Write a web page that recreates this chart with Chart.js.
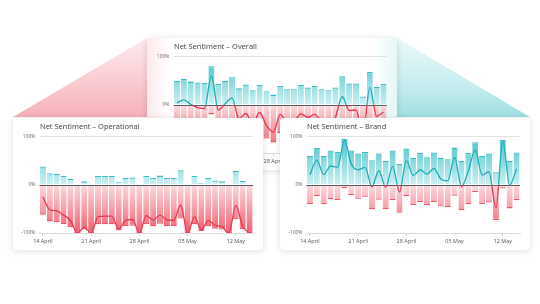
<!DOCTYPE html>
<html><head><meta charset="utf-8">
<script src="https://cdn.jsdelivr.net/npm/chart.js@4"></script>
<style>
html,body{margin:0;padding:0;background:#fff;width:540px;height:304px;overflow:hidden;font-family:'Open Sans',sans-serif;}
.bg{position:absolute;}
#pink{left:13px;top:38px;width:134px;height:79px;clip-path:polygon(100% 0,100% 100%,0 100%);background:linear-gradient(to top,#f6b0ba 0%,#f9c9cf 40%,#fdebee 100%);}
#teal{left:397px;top:38px;width:133px;height:79px;clip-path:polygon(0 0,100% 100%,0 100%);background:linear-gradient(to top,#a0dfe2 0%,#c6edef 40%,#ecf9fa 100%);}
.card{position:absolute;width:250px;height:132px;background:#fff;border-radius:4px;box-shadow:0 1px 7px rgba(0,0,0,0.14);}
.card canvas{position:absolute;left:0;top:0;}
.title{position:absolute;left:27px;top:4px;font-size:7.5px;line-height:9px;color:#3d3d3d;white-space:nowrap;}
#ovTint{position:absolute;left:0;top:0;width:250px;height:132px;border-radius:4px;pointer-events:none;
 background:linear-gradient(to right,rgba(246,176,186,0.28) 0%,rgba(255,255,255,0) 9%,rgba(255,255,255,0) 91%,rgba(160,223,226,0.28) 100%);}
</style></head>
<body>
<div class="bg" id="pink"></div>
<div class="bg" id="teal"></div>
<div class="card" style="left:147px;top:37.5px;"><canvas id="overall" width="250" height="132"></canvas><div id="ovTint"></div><div class="title">Net Sentiment – Overall</div></div>
<div class="card" style="left:13px;top:117.5px;"><canvas id="operational" width="250" height="132"></canvas><div class="title">Net Sentiment – Operational</div></div>
<div class="card" style="left:280px;top:117.5px;"><canvas id="brand" width="250" height="132"></canvas><div class="title">Net Sentiment – Brand</div></div>
<script>
const categories = ['14 April','15 April','16 April','17 April','18 April','19 April','20 April','21 April','22 April','23 April','24 April','25 April','26 April','27 April','28 April','29 April','30 April','01 May','02 May','03 May','04 May','05 May','06 May','07 May','08 May','09 May','10 May','11 May','12 May','13 May','14 May'];
const tickLabels = ['14 April','21 April','28 April','05 May','12 May'];

const overallPos = [50,54,48,46,45,80,43,50,57,34,42,30,41,28,21,39,32,32,41,36,39,32,30,36,59,44,44,17,68,37,43];
const overallNeg = [-48,-44,-50,-52,-53,-20,-55,-48,-42,-64,-56,-68,-57,-70,-78,-59,-66,-65,-57,-62,-59,-66,-68,-62,-40,-54,-55,-81,-31,-61,-55];
const overallNet = [4,10,1,-6,-8,60,-11,2,14,-29,-18,-38,-16,-43,-57,-20,-34,-33,-19,-26,-20,-34,-38,-26,17,-12,-11,-64,36,-24,-15];

const operationalPos = [38,24,23,18,12,0,7,0,18,18,18,5,14,15,0,18,14,19,14,14,30,0,18,4,14,9,7,0,29,8,0];
const operationalNeg = [-62,-76,-77,-82,-88,-100,-93,-100,-82,-82,-82,-95,-86,-85,-100,-82,-86,-81,-86,-86,-70,-100,-82,-96,-86,-91,-93,-100,-71,-92,-100];
const operationalNet = [-25,-52,-54,-63,-74,-100,-88,-100,-66,-65,-65,-92,-74,-72,-100,-64,-73,-63,-73,-74,-42,-100,-66,-94,-74,-84,-87,-100,-43,-86,-100];

const brandPos = [60,76,60,71,68,95,71,65,68,51,65,49,71,43,75,56,66,57,67,56,53,77,49,66,88,60,65,26,93,49,67];
const brandNeg = [-40,-24,-40,-30,-32,-7,-22,-29,-25,-51,-31,-51,-32,-58,-24,-42,-36,-42,-36,-45,-46,-23,-53,-40,-15,-40,-37,-73,-8,-49,-32];
const brandNet = [21,51,21,39,36,92,43,31,36,-4,29,-5,38,-15,50,19,31,22,34,12,8,57,-4,29,72,20,27,-48,91,-1,33];

const yTicks = {min:-100, max:100, step:100};

const zeroLine = {
  id:'zeroLine',
  beforeDatasetDraw(chart, args){
    if(args.meta.type !== 'line') return;
    const {ctx, chartArea, scales} = chart;
    const y0 = Math.round(scales.y.getPixelForValue(0)) + 0.5;
    ctx.save();
    ctx.strokeStyle = '#5a5a5a';
    ctx.lineWidth = 1.2;
    ctx.beginPath(); ctx.moveTo(chartArea.left, y0); ctx.lineTo(chartArea.right, y0); ctx.stroke();
    ctx.restore();
  }
};

function posGrad(c){
  const {ctx, chartArea, scales} = c.chart; if(!chartArea) return '#8fdde0';
  const g = ctx.createLinearGradient(0, chartArea.top, 0, scales.y.getPixelForValue(0));
  g.addColorStop(0,'#42c3c9'); g.addColorStop(1,'#cdf0f2'); return g;
}
function negGrad(c){
  const {ctx, chartArea, scales} = c.chart; if(!chartArea) return '#f7a0a9';
  const g = ctx.createLinearGradient(0, scales.y.getPixelForValue(0), 0, chartArea.bottom);
  g.addColorStop(0,'#fcdade'); g.addColorStop(1,'#f0606f'); return g;
}
function lineGrad(c){
  const {ctx, chartArea, scales} = c.chart; if(!chartArea) return '#2ab3b9';
  const y0 = scales.y.getPixelForValue(0);
  const f = Math.min(1, Math.max(0, (y0 - chartArea.top)/(chartArea.bottom - chartArea.top)));
  const g = ctx.createLinearGradient(0, chartArea.top, 0, chartArea.bottom);
  g.addColorStop(0,'#22b0b7'); g.addColorStop(f,'#22b0b7'); g.addColorStop(f,'#ec3a50'); g.addColorStop(1,'#ec3a50');
  return g;
}

function makeChart(id, pos, neg, net){
  new Chart(document.getElementById(id), {
    data:{
      labels: categories,
      datasets:[
        {type:'line', data:net, order:0, borderColor:lineGrad, borderWidth:1.4, pointRadius:0, cubicInterpolationMode:'monotone', fill:false},
        {type:'bar', data:pos, order:1, backgroundColor:posGrad, borderColor:'#3bbcc2', borderWidth:{top:1.3,right:0,bottom:0,left:0}, barPercentage:0.88, categoryPercentage:1},
        {type:'bar', data:neg, order:2, backgroundColor:negGrad, borderColor:'#ee5868', borderWidth:{top:0,right:0,bottom:1.3,left:0}, barPercentage:0.88, categoryPercentage:1}
      ]
    },
    options:{
      responsive:false, animation:false, events:[],
      layout:{padding:{top:18.5,right:10,left:0,bottom:0}},
      plugins:{legend:{display:false}, tooltip:{enabled:false}},
      scales:{
        x:{stacked:true, offset:true,
          grid:{display:true, drawOnChartArea:false, drawTicks:true, tickLength:3, offset:false,
            color:(c)=> tickLabels.includes(categories[c.index]) ? '#cfcfcf' : 'rgba(0,0,0,0)'},
          border:{display:true, color:'#dcdcdc'},
          ticks:{autoSkip:false, maxRotation:0, minRotation:0, padding:2, color:'#555', font:{family:'Open Sans', size:5.5},
            callback:(v,i)=> tickLabels.includes(categories[i]) ? categories[i] : ''},
          afterFit:(s)=>{ s.height = 17; }
        },
        y:{stacked:false, min:yTicks.min, max:yTicks.max,
          grid:{drawTicks:false, color:(c)=> c.tick.value === 0 ? 'rgba(0,0,0,0)' : '#e3e3e3'},
          border:{display:false},
          ticks:{stepSize:yTicks.step, padding:4, color:'#666', font:{family:'Open Sans', size:5}, callback:(v)=> v + '%'},
          afterFit:(s)=>{ s.width = 26.5; }
        }
      }
    },
    plugins:[zeroLine]
  });
}
makeChart('overall', overallPos, overallNeg, overallNet);
makeChart('operational', operationalPos, operationalNeg, operationalNet);
makeChart('brand', brandPos, brandNeg, brandNet);
</script>
</body></html>
